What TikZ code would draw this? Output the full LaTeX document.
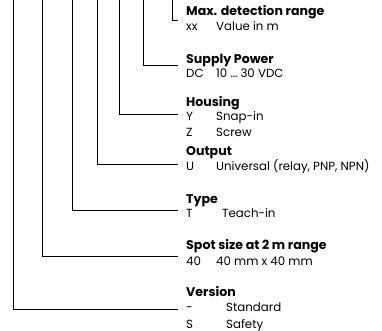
\documentclass[tikz,border=0pt]{standalone}
\usepackage{fontspec}
\setmainfont{Poppins}
\begin{document}
\begin{tikzpicture}[x=1pt,y=-1pt]
  \tikzstyle{title} = [anchor=base west, inner sep=0pt, font=\bfseries\fontsize{12.6}{14}\selectfont]
  \tikzstyle{entry} = [anchor=base west, inner sep=0pt, font=\fontsize{11.8}{14}\selectfont]
  \tikzstyle{leader} = [line width=0.9pt]
  \newcommand{\code}[2][30pt]{\makebox[#1][l]{#2}}

  \useasboundingbox (0,0) rectangle (382,331);

  % tops of the leaders
  \coordinate (tversion) at (13,0);
  \coordinate (tspot) at (42,0);
  \coordinate (ttype) at (72,0);
  \coordinate (toutput) at (97,0);
  \coordinate (thousing) at (119,0);
  \coordinate (tsupply) at (143,0);
  \coordinate (trange) at (172,0);

  \node (range) [title] at (186,16) {Max. detection range};
  \node (rangeval) [entry] at (186,31) {\code{xx}Value in m};
  \node (supply) [title] at (186,63.3) {Supply Power};
  \node (supplyval) [entry] at (186,77.7) {\code{DC}10 \dots\ 30 VDC};
  \node (housing) [title] at (186,107) {Housing};
  \node (housingY) [entry] at (186,120.7) {\code{Y}Snap-in};
  \node (housingZ) [entry] at (186,136) {\code{Z}Screw};
  \node (output) [title] at (186,155.7) {Output};
  \node (outputval) [entry] at (186,170) {\code{U}Universal (relay, PNP, NPN)};
  \node (type) [title] at (186,203.3) {Type};
  \node (typeval) [entry] at (186,217) {\code[36pt]{T}Teach-in};
  \node (spot) [title] at (186,249.3) {Spot size at 2 m range};
  \node (spotval) [entry] at (186,265) {\code{40}40 mm x 40 mm};
  \node (version) [title] at (186,296) {Version};
  \node (versionstd) [entry] at (186,311.7) {\code[40pt]{-}Standard};
  \node (versionsafe) [entry] at (186,328) {\code[40pt]{S}Safety};

  \draw [leader] (trange) |- ([xshift=-8pt,yshift=10.3pt]rangeval.base west);
  \draw [leader] (tsupply) |- ([xshift=-8pt,yshift=12.7pt]supplyval.base west);
  \draw [leader] (thousing) |- ([xshift=-8pt,yshift=6.2pt]housingY.base west);
  \draw [leader] (toutput) |- ([xshift=-8pt,yshift=6pt]outputval.base west);
  \draw [leader] (ttype) |- ([xshift=-8pt,yshift=7pt]typeval.base west);
  \draw [leader] (tspot) |- ([xshift=-8pt,yshift=9pt]spotval.base west);
  \draw [leader] (tversion) |- ([xshift=-8pt,yshift=2.7pt]versionstd.base west);
\end{tikzpicture}
\end{document}
